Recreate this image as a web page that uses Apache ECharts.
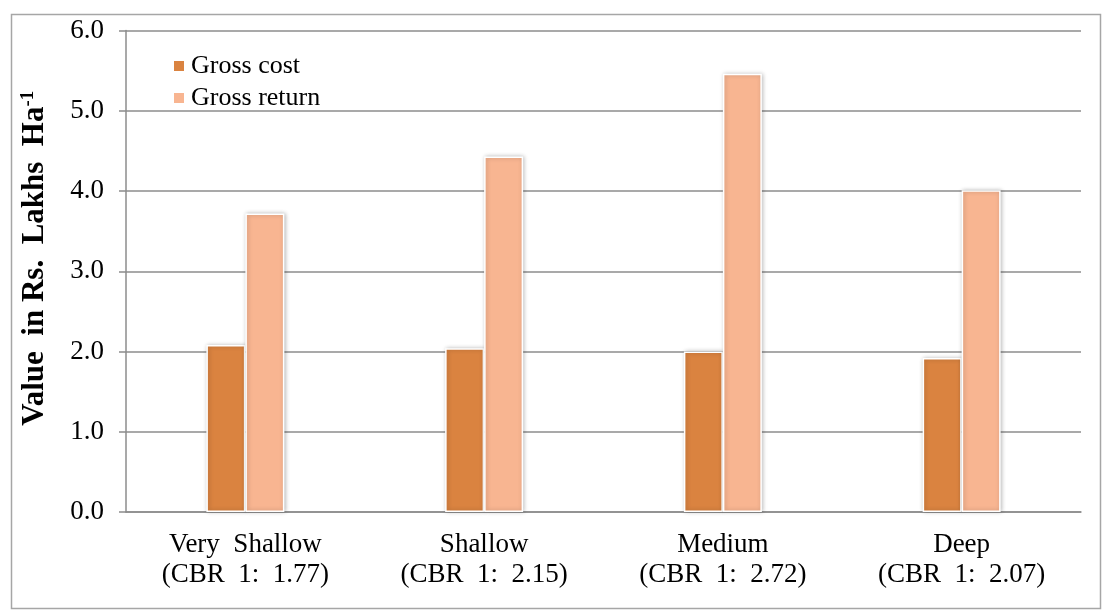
<!DOCTYPE html>
<html>
<head>
<meta charset="utf-8">
<script src="https://cdn.jsdelivr.net/npm/echarts@6/dist/echarts.min.js"></script>
<style>
html,body{margin:0;padding:0;background:#fff;}
#chart{width:1107px;height:615px;}
</style>
</head>
<body>
<div id="chart"></div>
<script>
const categories = ['Very  Shallow\n(CBR  1:  1.77)', 'Shallow\n(CBR  1:  2.15)', 'Medium\n(CBR  1:  2.72)', 'Deep\n(CBR  1:  2.07)'];
const grossCost = [2.08, 2.04, 2.00, 1.92];
const grossReturn = [3.72, 4.43, 5.46, 4.01];
const seriesNames = ['Gross cost', 'Gross return'];

const FONT = '"Liberation Serif", "Times New Roman", serif';
const chart = echarts.init(document.getElementById('chart'));
const barStyle = (c) => ({
  color: c, borderColor: '#ffffff', borderWidth: 1.5,
  shadowColor: 'rgba(0,0,0,0.25)', shadowBlur: 4, shadowOffsetX: 1, shadowOffsetY: 0
});
chart.setOption({
  backgroundColor: '#ffffff',
  animation: false,
  graphic: [{
    type: 'rect', left: 9, top: 12, shape: { width: 1089, height: 594 },
    style: { fill: 'none', stroke: '#a6a6a6', lineWidth: 1.5 }, silent: true, z: -1
  }],
  grid: { left: 126, right: 26, top: 30.5, bottom: 103 },
  legend: {
    orient: 'vertical', left: 167, top: 48, icon: 'rect', itemWidth: 12, itemHeight: 12, itemGap: 6,
    textStyle: { fontFamily: FONT, fontSize: 26, lineHeight: 26, color: '#000', padding: [0, 0, 0, 1] },
    data: seriesNames
  },
  xAxis: {
    type: 'category', data: categories,
    axisLine: { lineStyle: { color: '#8c8c8c', width: 1.5 } },
    axisTick: { show: false },
    axisLabel: { fontFamily: FONT, fontSize: 27, color: '#000', lineHeight: 30, margin: 18, interval: 0 }
  },
  yAxis: {
    type: 'value', min: 0, max: 6, interval: 1,
    name: 'Value  in Rs.  Lakhs  Ha{sup|-1}',
    nameLocation: 'middle', nameGap: 75, nameRotate: 90,
    nameTextStyle: {
      fontFamily: FONT, fontSize: 31, fontWeight: 'bold', color: '#000', padding: [0, 0, 0, 26],
      rich: { sup: { fontFamily: FONT, fontSize: 19, fontWeight: 'bold', color: '#000', verticalAlign: 'top', padding: [0, 0, 13, 0] } }
    },
    axisLine: { show: true, lineStyle: { color: '#8c8c8c', width: 1.5 } },
    axisTick: { show: true, length: 7, inside: false, lineStyle: { color: '#8c8c8c', width: 1.5 } },
    splitLine: { lineStyle: { color: '#8c8c8c', width: 1.5 } },
    axisLabel: { fontFamily: FONT, fontSize: 27, color: '#000', margin: 22, formatter: v => v.toFixed(1) }
  },
  series: [
    { name: seriesNames[0], type: 'bar', data: grossCost, barWidth: 39, barGap: '0%', itemStyle: barStyle('#DA8340') },
    { name: seriesNames[1], type: 'bar', data: grossReturn, barWidth: 39, barGap: '0%', itemStyle: barStyle('#F8B591') }
  ]
});
</script>
</body>
</html>
